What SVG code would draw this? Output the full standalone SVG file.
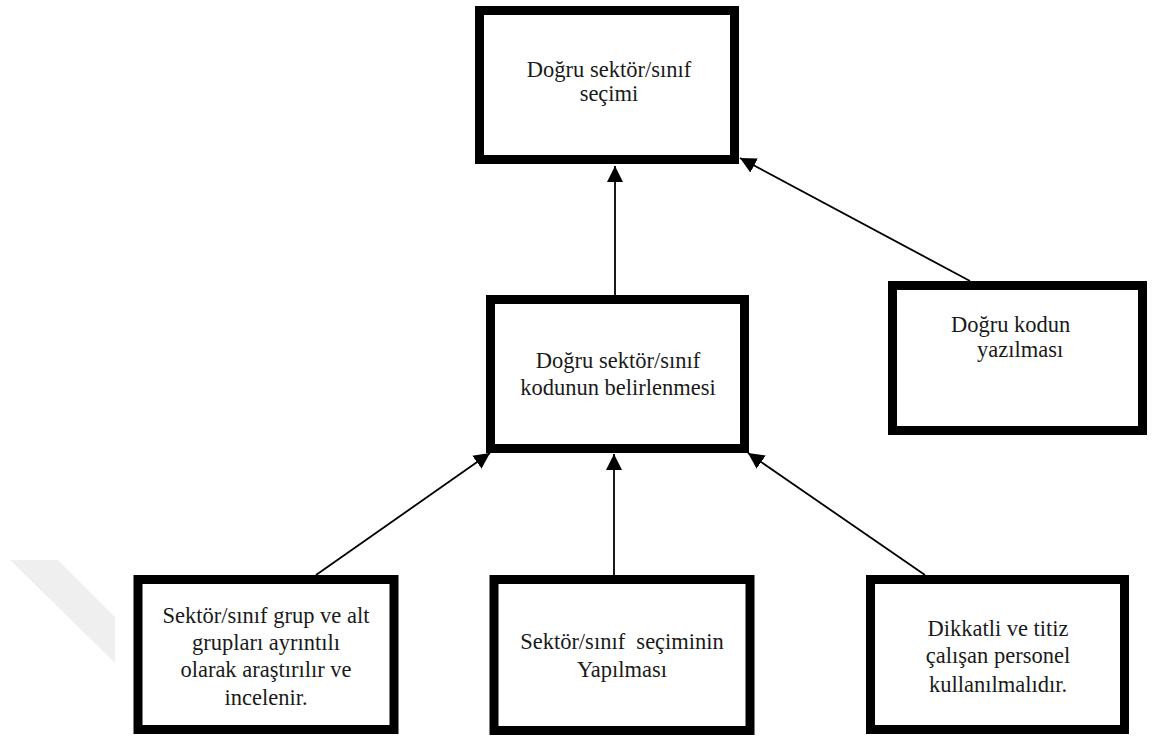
<svg xmlns="http://www.w3.org/2000/svg" width="1153" height="739" viewBox="0 0 1153 739">
  <style>
    .box { fill: #ffffff; stroke: #000000; stroke-width: 9; }
    .lbl { font-family: 'Liberation Serif', 'Times New Roman', Times, 'DejaVu Serif', serif; font-size: 22.5px; fill: #1a1a1a; text-anchor: middle; }
    .lbl-start { text-anchor: start; }
    .link { stroke: #000000; stroke-width: 1.8; fill: none; marker-end: url(#head); }
  </style>
  <defs>
    <marker id="head" markerUnits="userSpaceOnUse" markerWidth="17" markerHeight="16" refX="16" refY="8" orient="auto">
      <path d="M0,0 L16,8 L0,16 Z" fill="#000000"/>
    </marker>
  </defs>

  <rect width="1153" height="739" fill="#ffffff"/>

  <!-- faint diagonal band in the lower left margin -->
  <polygon points="10,560 58,560 115,617 115,663" fill="#efefef"/>

  <g id="connectors">
    <line class="link" x1="615" y1="295" x2="615" y2="166"/>
    <line class="link" x1="970" y1="281" x2="740" y2="158"/>
    <line class="link" x1="316" y1="575" x2="490" y2="453"/>
    <line class="link" x1="614" y1="575" x2="614" y2="454"/>
    <line class="link" x1="925" y1="575" x2="748" y2="453"/>
  </g>

  <g font-family="'Liberation Serif', 'Times New Roman', Times, 'DejaVu Serif', serif">
    <g id="node-secim">
      <rect class="box" x="479.5" y="10.5" width="255" height="149"/>
      <text class="lbl" x="609" y="77">Doğru sektör/sınıf</text>
      <text class="lbl" x="609" y="101">seçimi</text>
    </g>

    <g id="node-kod-belirleme">
      <rect class="box" x="490.5" y="299.5" width="254" height="149"/>
      <text class="lbl" x="618" y="368">Doğru sektör/sınıf</text>
      <text class="lbl" x="618" y="395">kodunun belirlenmesi</text>
    </g>

    <g id="node-kod-yazim">
      <rect class="box" x="892.5" y="285.5" width="250" height="145"/>
      <text class="lbl lbl-start" x="951" y="332">Doğru kodun</text>
      <text class="lbl lbl-start" x="977" y="357">yazılması</text>
    </g>

    <g id="node-arastirma">
      <rect class="box" x="138" y="579.5" width="256" height="150"/>
      <text class="lbl" x="266" y="623">Sektör/sınıf grup ve alt</text>
      <text class="lbl" x="266" y="650">grupları ayrıntılı</text>
      <text class="lbl" x="266" y="677">olarak araştırılır ve</text>
      <text class="lbl" x="266" y="705">incelenir.</text>
    </g>

    <g id="node-secim-yapma">
      <rect class="box" x="494" y="579.5" width="256" height="151"/>
      <text class="lbl" x="622" y="649" xml:space="preserve">Sektör/sınıf  seçiminin</text>
      <text class="lbl" x="622" y="677">Yapılması</text>
    </g>

    <g id="node-personel">
      <rect class="box" x="870.5" y="579.5" width="254" height="150"/>
      <text class="lbl" x="998" y="636">Dikkatli ve titiz</text>
      <text class="lbl" x="998" y="663">çalışan personel</text>
      <text class="lbl" x="998" y="692">kullanılmalıdır.</text>
    </g>
  </g>
</svg>
